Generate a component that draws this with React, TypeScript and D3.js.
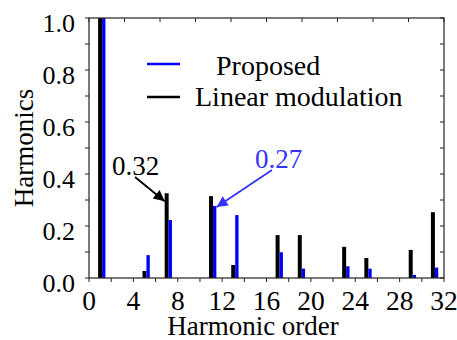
import React from "react";
import * as d3 from "d3";

const orders = [1, 5, 7, 11, 13, 17, 19, 23, 25, 29, 31];
const linearMod = [1.0, 0.027, 0.326, 0.315, 0.05, 0.165, 0.165, 0.12, 0.077, 0.108, 0.253];
const proposed = [1.0, 0.088, 0.223, 0.277, 0.242, 0.099, 0.036, 0.045, 0.036, 0.012, 0.04];
const xTicks = [0, 4, 8, 12, 16, 20, 24, 28, 32];
const yTicks = [0, 0.2, 0.4, 0.6, 0.8, 1.0];

const W = 457;
const H = 340;
const m = { left: 89, right: 13, top: 18, bottom: 62 };
const serif = { fontFamily: "Liberation Serif" };
const BLUE = "#0000ff";

export default function App() {
  const x = d3.scaleLinear().domain([0, 32]).range([m.left, W - m.right]);
  const y = d3.scaleLinear().domain([0, 1]).range([H - m.bottom, m.top]);
  const [x0, x1] = x.range();
  const [y0, y1] = y.range();

  const minorY = d3.range(0, 1.0001, 0.1);
  const minorX = d3.range(0, 32.001, 2);
  const topTicks = d3.range(0, 10.001, 1).map(i => x0 + ((x1 - x0) * i) / 10);
  const bw = 0.36;
  const bwBlue = 0.3;

  return (
    <div style={{ position: "fixed", left: 0, top: 0 }}>
      <svg width={W} height={H} style={{ display: "block", background: "#fff" }}>
        <defs>
          <marker id="ahBlack" viewBox="0 0 10 10" refX="10" refY="5"
            markerWidth="13" markerHeight="11" markerUnits="userSpaceOnUse" orient="auto">
            <path d="M0,0 L10,5 L0,10 z" fill="#000" />
          </marker>
          <marker id="ahBlue" viewBox="0 0 10 10" refX="10" refY="5"
            markerWidth="13" markerHeight="11" markerUnits="userSpaceOnUse" orient="auto">
            <path d="M0,0 L10,5 L0,10 z" fill="#3333ff" />
          </marker>
          <clipPath id="plot">
            <rect x={x0} y={y1} width={x1 - x0} height={y0 - y1} />
          </clipPath>
        </defs>

        {/* bars */}
        <g clipPath="url(#plot)">
          {orders.map((n, i) => (
            <g key={n}>
              <rect x={x(n - bw / 2)} y={y(linearMod[i])} width={x(bw) - x(0)}
                height={y0 - y(linearMod[i])} fill="#000" />
              <rect x={x(n + bw / 2)} y={y(proposed[i])} width={x(bwBlue) - x(0)}
                height={y0 - y(proposed[i])} fill={BLUE} />
            </g>
          ))}
        </g>

        {/* frame */}
        <rect x={x0} y={y1} width={x1 - x0} height={y0 - y1} fill="none" stroke="#222" strokeWidth={1.2} />

        {/* y ticks, outside on the left and inside on the right */}
        {minorY.map(v => (
          <g key={"y" + v}>
            <line x1={x0 - 4} x2={x0} y1={y(v)} y2={y(v)} stroke="#222" />
            <line x1={x1 - 4} x2={x1} y1={y(v)} y2={y(v)} stroke="#222" />
          </g>
        ))}
        {yTicks.map(v => (
          <text key={"yl" + v} x={75} y={y(v) + 13.5} textAnchor="end"
            style={serif} fontSize={26}>{v.toFixed(1)}</text>
        ))}

        {/* x ticks */}
        {minorX.map(v => (
          <line key={"x" + v} x1={x(v)} x2={x(v)} y1={y0} y2={y0 + 4} stroke="#222" />
        ))}
        {topTicks.map((px, i) => (
          <line key={"t" + i} x1={px} x2={px} y1={y1} y2={y1 + 4} stroke="#222" />
        ))}
        {xTicks.map(v => (
          <text key={"xl" + v} x={x(v)} y={310} textAnchor="middle"
            style={serif} fontSize={27.5}>{v}</text>
        ))}

        {/* axis titles */}
        <text x={253} y={335} textAnchor="middle" style={serif} fontSize={27}>Harmonic order</text>
        <text transform={`translate(33, ${(y0 + y1) / 2}) rotate(-90)`} textAnchor="middle"
          style={serif} fontSize={27}>Harmonics</text>

        {/* legend */}
        <line x1={147} x2={180} y1={64} y2={64} stroke={BLUE} strokeWidth={2.5} />
        <text x={216} y={75} style={serif} fontSize={28}>Proposed</text>
        <line x1={147} x2={180} y1={97} y2={97} stroke="#000" strokeWidth={2.5} />
        <text x={195} y={106} style={serif} fontSize={28}>Linear modulation</text>

        {/* annotations */}
        <text x={112} y={175} style={serif} fontSize={27}>0.32</text>
        <line x1={135} y1={177} x2={x(7) - 2} y2={y(0.326) + 8} stroke="#000" strokeWidth={1.8}
          markerEnd="url(#ahBlack)" />
        <text x={255} y={168} style={serif} fontSize={27} fill="#3333ff">0.27</text>
        <line x1={272} y1={170} x2={x(11.5)} y2={y(0.277) + 1} stroke="#3333ff" strokeWidth={1.8}
          markerEnd="url(#ahBlue)" />
      </svg>
    </div>
  );
}
